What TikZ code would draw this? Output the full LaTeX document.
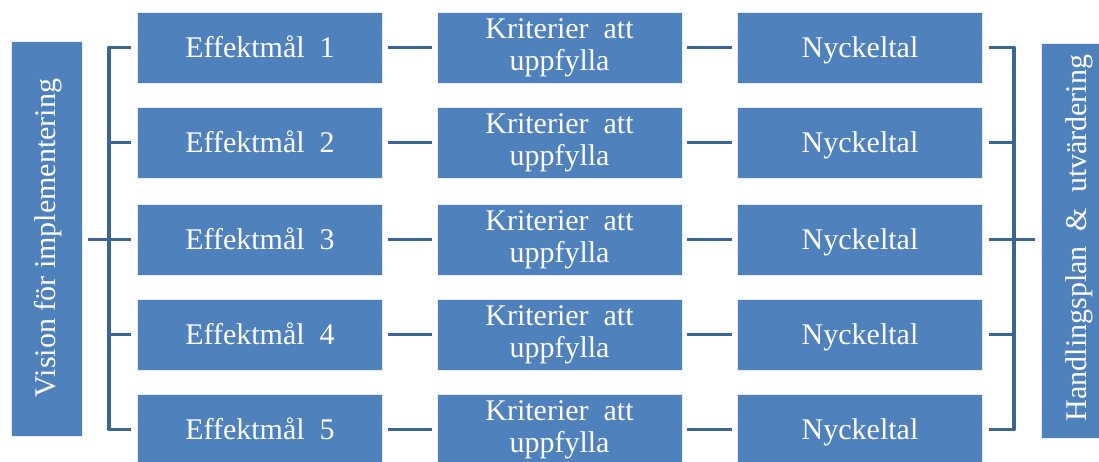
\documentclass[tikz,border=0pt]{standalone}
\usepackage{fontspec}
\setmainfont{Liberation Serif}
\definecolor{boxblue}{HTML}{4F81BD}
\definecolor{lineblue}{HTML}{3A6595}
\begin{document}
\begin{tikzpicture}[x=1pt,y=-1pt,
  blk/.style={draw=white!85!boxblue, line width=0.8pt, fill=boxblue, text=white, inner sep=0pt,
    font=\fontsize{30}{32}\selectfont, align=center},
  rowbox/.style={blk, minimum width=245pt, minimum height=71pt},
  onebox/.style={rowbox, text height=20.5pt, text depth=0pt},
  sidebox/.style={blk, minimum width=71pt, minimum height=395pt},
  vtext/.style={rotate=90, text=white, font=\fontsize{30}{32}\selectfont},
  conn/.style={draw=lineblue, line width=3.6pt}]
\useasboundingbox (0,0) rectangle (1099,461);
\node[sidebox] (vis) at (46.5,238.5) {};
\node[vtext] (vist) at (48,238) {Vision för implementering};
\node[sidebox] (hand) at (1076.5,241) {};
\node[vtext] (handt) at (1079,238) {Handlingsplan~ \&~ utvärdering};
\foreach \i/\y in {1/47.5,2/142.5,3/239.5,4/334.5,5/429.5}{
  \node[onebox] (e\i) at (260,\y) {Effektmål~ \i};
  \node[rowbox] (k\i) at (559.5,\y) {Kriterier~ att\\uppfylla};
  \node[onebox] (n\i) at (860,\y) {Nyckeltal};
  \draw[conn] ([xshift=5pt]e\i.east) -- ([xshift=-5pt]k\i.west);
  \draw[conn] ([xshift=5pt]k\i.east) -- ([xshift=-5pt]n\i.west);
}
% left bracket
\draw[conn, line join=round] ([xshift=-6pt]e1.west) -- ++(-22,0) |- ([xshift=-6pt]e5.west);
\foreach \i in {2,3,4}{
  \draw[conn] ([xshift=-6pt]e\i.west) -- ++(-22,0);
}
\draw[conn] ([xshift=6pt]vis.east |- e3.west) -- ([xshift=-6pt]e3.west);
% right bracket
\draw[conn, line join=round] ([xshift=6pt]n1.east) -- ++(25,0) |- ([xshift=6pt]n5.east);
\foreach \i in {2,3,4}{
  \draw[conn] ([xshift=6pt]n\i.east) -- ++(25,0);
}
\draw[conn] ([xshift=6pt]n3.east) -- ([xshift=-6pt]hand.west |- n3.east);
\end{tikzpicture}
\end{document}
